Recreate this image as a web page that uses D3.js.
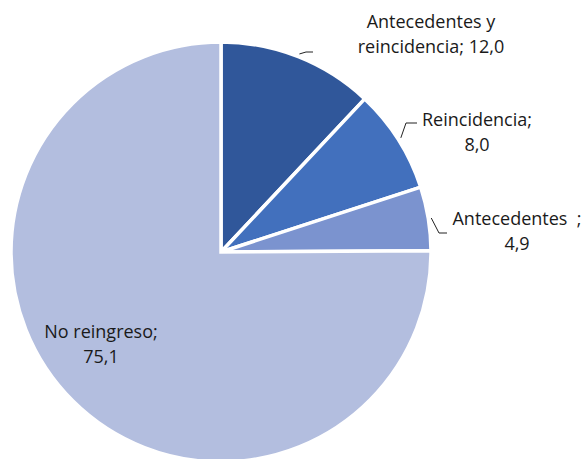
<!DOCTYPE html>
<html>
<head>
<meta charset="utf-8">
<script src="https://cdn.jsdelivr.net/npm/d3@7"></script>
<style>
body{margin:0;background:#fff;}
text{font-family:"Open Sans","Liberation Sans",Arial,sans-serif;font-size:18px;fill:#1a1a1a;}
</style>
</head>
<body>
<svg id="chart" width="582" height="459"></svg>
<script>
// data
var categories = ['Antecedentes y reincidencia', 'Reincidencia', 'Antecedentes', 'No reingreso'];
var values = [12.0, 8.0, 4.9, 75.1];
var labelLines = [['Antecedentes y', 'reincidencia; 12,0'], ['Reincidencia;', '8,0'], ['Antecedentes\u00a0\u00a0;', '4,9'], ['No reingreso;', '75,1']];
var colors = ['#30579a', '#4270bd', '#7b93cf', '#b3bedf'];

// layout (label anchor + leader elbow), not data
var labelXY = [[431, 28], [477, 126], [517, 225], [101, 338]];
var elbows = [[[306, 52], [313, 52]], [[406, 123], [417, 123]], [[439, 233], [447, 233]], null];

var cx = 221, cy = 252, R = 210;
var svg = d3.select('#chart');
var g = svg.append('g').attr('transform', 'translate(' + cx + ',' + cy + ')');

var pie = d3.pie().sort(null).value(function(d){ return d; });
var arcs = pie(values);
var arc = d3.arc().innerRadius(0).outerRadius(R);

g.selectAll('path').data(arcs).enter().append('path')
  .attr('d', arc)
  .attr('fill', function(d, i){ return colors[i]; })
  .attr('stroke', '#fff')
  .attr('stroke-width', 3.5)
  .attr('stroke-linejoin', 'miter');

// leader lines
arcs.forEach(function(a, i){
  if(!elbows[i]) return;
  var m = (a.startAngle + a.endAngle) / 2;
  var x0 = cx + Math.sin(m) * (R + 3), y0 = cy - Math.cos(m) * (R + 3);
  var pts = [[x0, y0]].concat(elbows[i]);
  svg.append('path')
    .attr('d', d3.line()(pts))
    .attr('fill', 'none')
    .attr('stroke', '#222')
    .attr('stroke-width', 1);
});

// labels
labelLines.forEach(function(lines, i){
  var t = svg.append('text')
    .attr('x', labelXY[i][0])
    .attr('y', labelXY[i][1])
    .attr('text-anchor', 'middle');
  lines.forEach(function(s, k){
    t.append('tspan').attr('x', labelXY[i][0]).attr('dy', k === 0 ? 0 : 25).text(s);
  });
});
</script>
</body>
</html>
